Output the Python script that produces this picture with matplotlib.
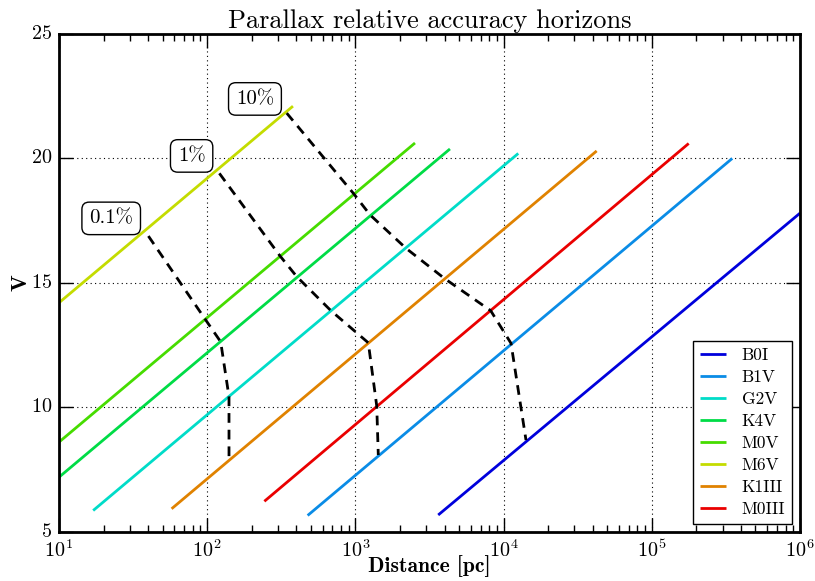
import matplotlib
matplotlib.use("Agg")
import matplotlib.pyplot as plt
import numpy as np

plt.rcParams['font.family'] = ['cmr10', 'DejaVu Serif']
plt.rcParams['mathtext.fontset'] = 'cm'
plt.rcParams['axes.formatter.use_mathtext'] = True

# star types: distance range [pc] and V magnitude at both ends
stars = ['B0I', 'B1V', 'G2V', 'K4V', 'M0V', 'M6V', 'K1III', 'M0III']
colors = ['#0000dc', '#0a8ce6', '#00dcc8', '#00dc46', '#46dc00', '#c4dc00', '#e08200', '#ea0000']
d_lo = [3620, 476, 17.0, 10, 10, 10, 57.5, 243]
d_hi = [1.0e6, 349000, 12560, 4345, 2524, 379, 42460, 177400]
v_lo = [5.67, 5.65, 5.85, 7.19, 8.60, 14.20, 5.92, 6.22]
v_hi = [17.80, 20.00, 20.20, 20.38, 20.62, 22.10, 20.30, 20.60]

# accuracy horizons (distance, V) along the star lines
acc_labels = ['0.1%', '1%', '10%']
hor_d = [
    [40.1, 96.6, 123.3, 140.3, 140.3],
    [120.8, 310, 402, 684, 1222, 1393, 1427],
    [344, 968, 1256, 2193, 3981, 8185, 11220, 14160],
]
hor_v = [
    [16.88, 13.55, 12.63, 10.42, 7.91],
    [19.40, 16.08, 15.25, 13.88, 12.59, 10.05, 8.08],
    [21.82, 18.60, 17.73, 16.39, 15.18, 13.88, 12.57, 8.68],
]
label_pos = [(22.5, 17.59), (78.5, 20.1), (210, 22.39)]

fig = plt.figure(figsize=(8.15, 5.81), dpi=100)
ax = fig.add_axes([0.0724, 0.0849, 0.9092, 0.8566])

for name, c, x0, x1, y0, y1 in zip(stars, colors, d_lo, d_hi, v_lo, v_hi):
    ax.plot([x0, x1], [y0, y1], color=c, lw=2, label=name, solid_capstyle='butt')

for dd, vv in zip(hor_d, hor_v):
    ax.plot(dd, vv, color='black', lw=2, dashes=(3.5, 2.5))

for txt, (x, y) in zip(acc_labels, label_pos):
    ax.text(x, y, txt, fontsize=15, ha='center', va='center',
            bbox=dict(boxstyle='round,pad=0.35', fc='white', ec='black', lw=1))

ax.set_xscale('log')
ax.set_xlim(10, 1e6)
ax.set_ylim(5, 25)
ax.set_yticks([5, 10, 15, 20, 25])

ax.grid(True, which='major', color='black', linestyle=(0, (1, 3)), lw=0.8)
ax.tick_params(which='both', direction='in', top=True, right=True, labelsize=14.5)
ax.tick_params(which='major', length=10, width=1)
ax.tick_params(axis='y', which='major', pad=5)
ax.tick_params(axis='x', which='major', pad=5.5)
ax.tick_params(which='minor', length=5, width=1)
plt.setp(ax.get_yticklabels(), va='center')
for sp in ax.spines.values():
    sp.set_linewidth(2)

ax.set_title('Parallax relative accuracy horizons', fontsize=19, pad=4)
ax.set_xlabel('Distance [pc]', family=['cmb10', 'DejaVu Serif'], fontsize=15.5, labelpad=-4)
ax.set_ylabel('V', family=['cmb10', 'DejaVu Serif'], fontsize=16, labelpad=0)

leg = ax.legend(loc='lower right', fontsize=12.5, fancybox=False, framealpha=1,
                edgecolor='black', handlelength=1.5, handletextpad=0.9,
                labelspacing=0.38, borderaxespad=0.45)
leg.get_frame().set_linewidth(1)

fig.savefig('out.png', dpi=100)
